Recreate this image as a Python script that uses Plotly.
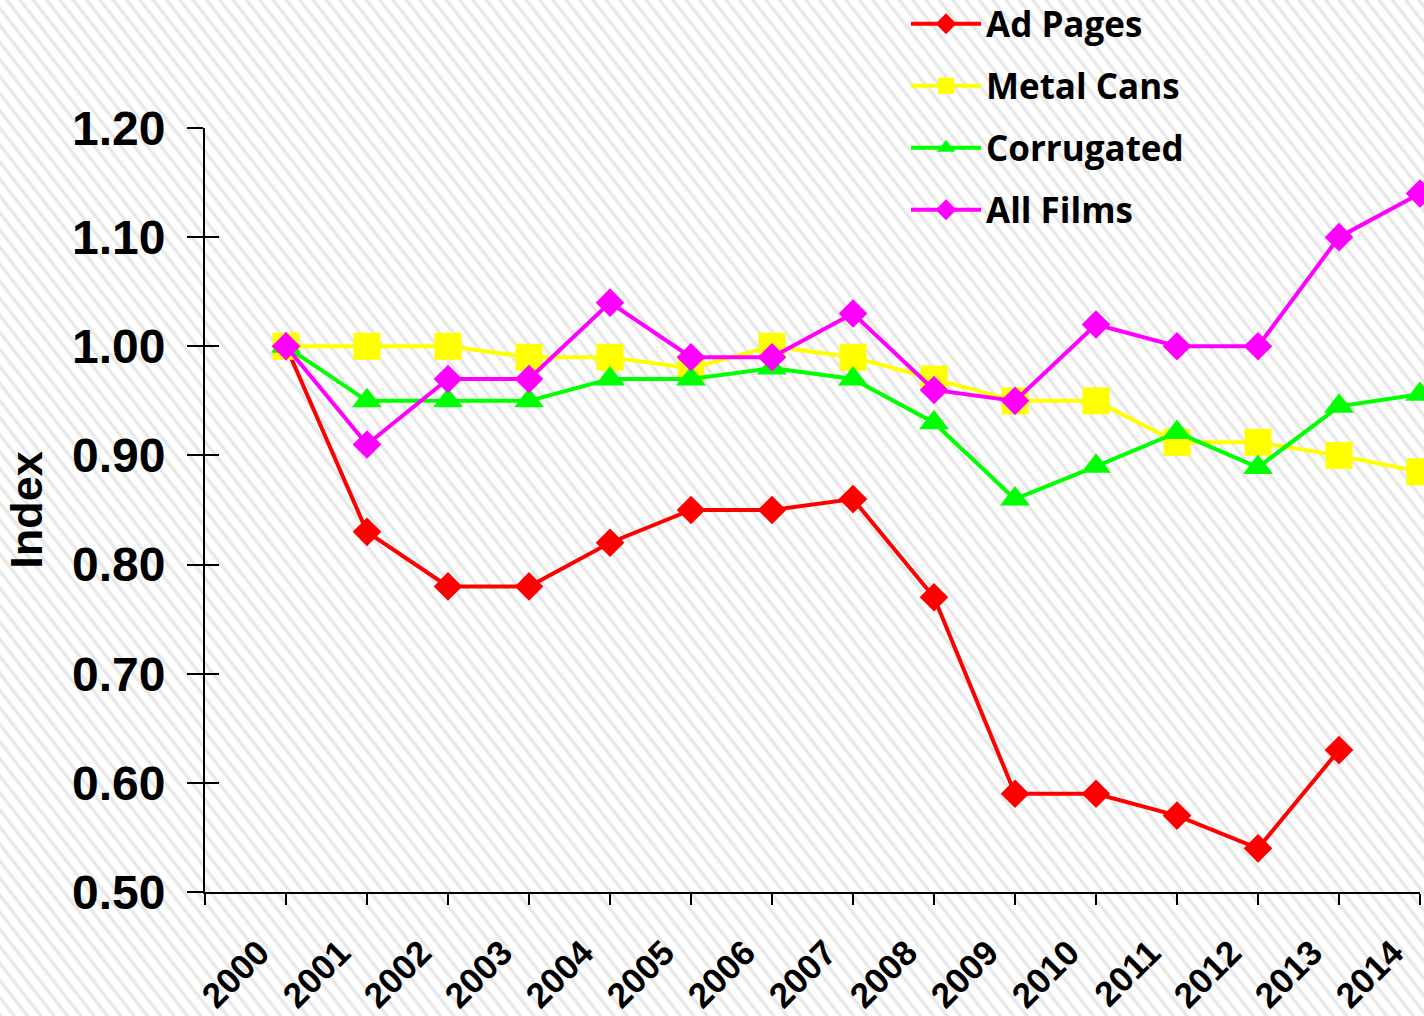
import base64
import plotly.graph_objects as go

# ---- data ----
years = list(range(2000, 2015))
ad_pages = [1.00, 0.83, 0.78, 0.78, 0.82, 0.85, 0.85, 0.86, 0.77, 0.59, 0.59, 0.57, 0.54, 0.63, None]
metal_cans = [1.00, 1.00, 1.00, 0.99, 0.99, 0.98, 1.00, 0.99, 0.97, 0.95, 0.95, 0.912, 0.912, 0.90, 0.885]
corrugated = [1.00, 0.95, 0.95, 0.95, 0.97, 0.97, 0.98, 0.97, 0.93, 0.86, 0.89, 0.921, 0.889, 0.945, 0.956]
all_films = [1.00, 0.91, 0.97, 0.97, 1.04, 0.99, 0.99, 1.03, 0.96, 0.95, 1.02, 1.00, 1.00, 1.10, 1.14]
y_ticks = [0.50, 0.60, 0.70, 0.80, 0.90, 1.00, 1.10, 1.20]
year_labels = [str(y) for y in years]

W, H = 1424, 1016
ML, MR, MT, MB = 205, 4, 128, 124
PW, PH = W - ML - MR, H - MT - MB

# hatched background as an inline SVG
svg = f'''<svg xmlns="http://www.w3.org/2000/svg" width="{W}" height="{H}" viewBox="0 0 {W} {H}">
<defs><pattern id="h" width="10.5" height="10.5" patternUnits="userSpaceOnUse" patternTransform="rotate(-38)">
<rect width="10.5" height="10.5" fill="#ffffff"/>
<line x1="5.25" y1="-1" x2="5.25" y2="12" stroke="#e8e8e8" stroke-width="3.4"/>
</pattern></defs>
<rect width="{W}" height="{H}" fill="url(#h)"/></svg>'''
src = "data:image/svg+xml;base64," + base64.b64encode(svg.encode()).decode()

FONT = "Arial, Liberation Sans, sans-serif"

series = [
    ("Ad Pages", ad_pages, "#FF0000", "diamond", 22),
    ("Metal Cans", metal_cans, "#FFFF00", "square", 27),
    ("Corrugated", corrugated, "#00FF00", "triangle-up", 26),
    ("All Films", all_films, "#FF00FF", "diamond", 22),
]

fig = go.Figure()
for i, (name, vals, col, sym, sz) in enumerate(series):
    fig.add_trace(go.Scatter(
        x=years, y=vals, name=name, mode="lines+markers",
        line=dict(color=col, width=4),
        marker=dict(color=col, symbol=sym, size=sz),
        cliponaxis=False, legendgroup=name,
    ))

# invisible helper trace on overlay axes
fig.add_trace(go.Scatter(x=[None], y=[None], xaxis="x3", yaxis="y2",
                         showlegend=False, hoverinfo="skip"))

xr = [1999, 2014]
yr = [0.5, 1.2]
fig.update_layout(
    width=W, height=H,
    margin=dict(l=ML, r=MR, t=MT, b=MB, autoexpand=False),
    paper_bgcolor="white", plot_bgcolor="rgba(0,0,0,0)",
    font=dict(family=FONT, color="black"),
    showlegend=True,
    legend=dict(
        x=(906 - ML) / PW, xanchor="left",
        y=1 + (MT + 5.5) / PH, yanchor="top",
        bgcolor="rgba(0,0,0,0)",
        font=dict(family="Open Sans, Lato, sans-serif", size=35, color="black", weight="bold"),
        tracegroupgap=13.5, itemwidth=70, itemsizing="trace",
    ),
    xaxis=dict(
        range=xr, tickmode="array", tickvals=list(range(1999, 2015)),
        showticklabels=False, ticks="outside", ticklen=11, tickwidth=2, tickcolor="black",
        showline=True, linecolor="black", linewidth=2, showgrid=False, zeroline=False,
        automargin=False,
    ),
    xaxis2=dict(
        overlaying="x", range=xr, tickmode="array", tickvals=list(range(1999, 2015)),
        showticklabels=False, ticks="inside", ticklen=10, tickwidth=2, tickcolor="black",
        showline=False, showgrid=False, zeroline=False, anchor="y", automargin=False,
    ),
    xaxis3=dict(
        overlaying="x", range=xr, tickmode="array",
        tickvals=[y - 0.33 for y in years], ticktext=year_labels,
        ticks="", tickangle=-45, showline=False, showgrid=False, zeroline=False,
        tickfont=dict(family=FONT, size=35, color="black", weight="bold"),
        anchor="y", side="bottom", ticklabelstandoff=32, automargin=False,
    ),
    yaxis=dict(
        range=yr, tickmode="array", tickvals=y_ticks, tickformat=".2f",
        ticks="outside", ticklen=16, tickwidth=2, tickcolor="black",
        showline=True, linecolor="black", linewidth=2, showgrid=False, zeroline=False,
        tickfont=dict(family=FONT, size=48, color="black", weight="bold"),
        ticklabelstandoff=12, automargin=False,
        title=dict(text="Index", font=dict(family=FONT, size=45, color="black", weight="bold"),
                   standoff=15),
    ),
    yaxis2=dict(
        overlaying="y", range=yr, tickmode="array", tickvals=y_ticks,
        showticklabels=False, ticks="inside", ticklen=14, tickwidth=2, tickcolor="black",
        showline=False, showgrid=False, zeroline=False, anchor="x", automargin=False,
    ),
    images=[dict(
        source=src, xref="paper", yref="paper",
        x=-ML / PW, y=1 + MT / PH, sizex=W / PW, sizey=H / PH,
        xanchor="left", yanchor="top", sizing="stretch", layer="below",
    )],
)

fig.write_html(
    "out.html",
    config={"displayModeBar": False},
    post_script="document.body.style.margin='0';document.body.style.overflow='hidden';",
)
